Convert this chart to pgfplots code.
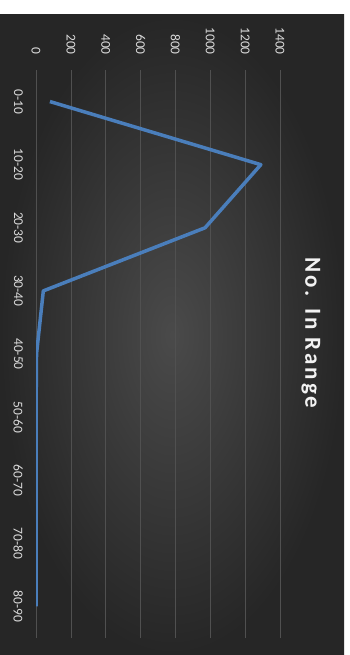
\documentclass[border=0pt]{standalone}
\usepackage{pgfplots}
\pgfplotsset{compat=1.18}
\usepackage{fontspec}
\setmainfont{Carlito}
\newfontfamily\titlefont[LetterSpace=13]{Carlito}
\definecolor{bgin}{HTML}{4A4A4A}
\definecolor{bgout}{HTML}{262626}
\definecolor{gridc}{HTML}{505050}
\definecolor{linec}{HTML}{4A7EBB}
\definecolor{tickc}{HTML}{D9D9D9}
\begin{document}
\begin{tikzpicture}
\useasboundingbox[fill=white] (0pt,0pt) rectangle (350pt,655pt);
\shade[inner color=bgin, outer color=bgout] (0pt,0pt) rectangle (344pt,640pt);
\begin{axis}[
  at={(36pt,17pt)}, anchor=south west,
  scale only axis, width=244pt, height=568pt,
  xmin=0, xmax=1400, ymin=-0.5, ymax=8.5,
  y dir=reverse,
  xtick={0,200,...,1400},
  ytick={0,...,8},
  yticklabels={0-10,10-20,20-30,30-40,40-50,50-60,60-70,70-80,80-90},
  xticklabel pos=right,
  /pgf/number format/assume math mode=true,
  /pgf/number format/1000 sep={},
  xticklabel style={rotate=-90, anchor=east, inner sep=0pt, font=\fontsize{13.5}{14}\selectfont, text=tickc},
  yticklabel style={rotate=-90, anchor=north, inner sep=0pt, font=\fontsize{13.5}{14}\selectfont, text=tickc},
  xticklabel shift=15pt,
  yticklabel shift=13pt,
  major tick length=0pt,
  axis line style={draw=none},
  xmajorgrids,
  grid style={gridc, line width=0.7pt},
]
\addplot[linec, line width=3.5pt, line join=round, mark=none] coordinates {
  (80,0) (1290,1) (970,2) (42,3) (3,4) (0,5) (0,6) (0,7) (0,8)
};
\end{axis}
\node[rotate=-90, anchor=center, text=white!95!black, font=\titlefont\bfseries\fontsize{23}{25}\selectfont] at (311pt,322pt) {No. In Range};
\end{tikzpicture}
\end{document}
